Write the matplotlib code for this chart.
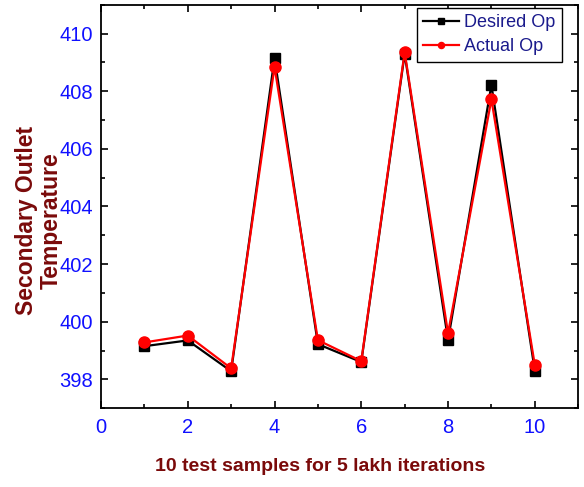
import numpy as np
import matplotlib.pyplot as plt
from matplotlib.ticker import MultipleLocator

plt.rcParams['font.family'] = ['Liberation Sans', 'DejaVu Sans']

# Données
samples = [1, 2, 3, 4, 5, 6, 7, 8, 9, 10]
desired_op = [399.15, 399.35, 398.28, 409.15, 399.22, 398.6, 409.3, 399.36, 408.22, 398.3]
actual_op = [399.28, 399.52, 398.38, 408.85, 399.36, 398.63, 409.36, 399.6, 407.72, 398.5]

fig = plt.figure(figsize=(5.84, 4.87), dpi=100)
ax = fig.add_axes([0.173, 0.162, 0.817, 0.828])

ax.plot(samples, desired_op, color='black', marker='s', markersize=7, lw=1.6,
        label='Desired Op')
ax.plot(samples, actual_op, color='red', marker='o', markersize=8, lw=1.6,
        label='Actual Op')

ax.set_xlim(0, 11)
ax.set_ylim(397, 411)
ax.xaxis.set_major_locator(MultipleLocator(2))
ax.xaxis.set_minor_locator(MultipleLocator(1))
ax.yaxis.set_major_locator(MultipleLocator(2))
ax.yaxis.set_minor_locator(MultipleLocator(1))
ax.tick_params(which='both', direction='in', top=True, right=True,
               labelcolor='#1010ff', labelsize=14.5, width=1.2)
ax.tick_params(which='major', length=5)
ax.tick_params(which='minor', length=3)
ax.tick_params(axis='y', pad=5.5)
ax.tick_params(axis='x', pad=7)
for s in ax.spines.values():
    s.set_linewidth(1.3)

ax.set_ylabel('Secondary Outlet\nTemperature', color='#7a0a0a',
              fontsize=16.5, fontweight='bold', linespacing=1.1)
ax.yaxis.set_label_coords(-0.08, 0.465)
ax.set_xlabel('10 test samples for 5 lakh iterations', color='#7a0a0a',
              fontsize=14, fontweight='bold')
ax.xaxis.set_label_coords(0.459, -0.124)
ax.xaxis.label.set_verticalalignment('top')

leg = ax.legend(loc='upper right', bbox_to_anchor=(0.966, 0.993), fontsize=13,
                fancybox=False, edgecolor='black', framealpha=1,
                handlelength=2.0, markerscale=0.55, borderpad=0.35,
                labelspacing=0.4, handletextpad=0.3, borderaxespad=0)
leg.get_frame().set_linewidth(1.0)
for t in leg.get_texts():
    t.set_color('#1a1a8c')

plt.savefig('out.png', dpi=100)
